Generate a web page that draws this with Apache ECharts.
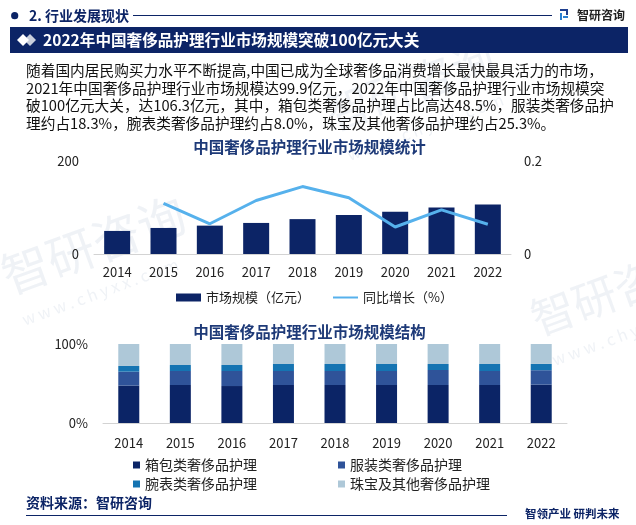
<!DOCTYPE html>
<html><head><meta charset="utf-8">
<script src="https://cdn.jsdelivr.net/npm/echarts@6/dist/echarts.min.js"></script>
<style>html,body{margin:0;padding:0;background:#fff}#c{width:636px;height:525px}</style>
</head><body><div id="c"></div>
<script>
const years = ['2014','2015','2016','2017','2018','2019','2020','2021','2022'];
const marketSize = [49.6, 56, 61, 66.8, 75, 84, 90.6, 99.9, 106.3];
const growth = [null, 0.109, 0.065, 0.115, 0.145, 0.121, 0.058, 0.095, 0.064];
const bagShare = [47.3, 48.1, 46.8, 48.1, 48.1, 48.1, 48.1, 48.1, 48.5];
const clothShare = [17.7, 17.7, 19.0, 17.7, 17.7, 17.7, 19.0, 17.7, 18.3];
const watchShare = [7.2, 7.6, 7.6, 8.9, 8.9, 8.9, 7.6, 8.9, 8.0];
const jewelShare = [27.8, 26.6, 26.6, 25.3, 25.3, 25.3, 25.3, 25.3, 25.2];
const paragraph = [
  '随着国内居民购买力水平不断提高,中国已成为全球奢侈品消费增长最快最具活力的市场，',
  '2021年中国奢侈品护理行业市场规模达99.9亿元，2022年中国奢侈品护理行业市场规模突',
  '破100亿元大关，达106.3亿元，其中，箱包类奢侈品护理占比高达48.5%，服装类奢侈品护',
  '理约占18.3%，腕表类奢侈品护理约占8.0%，珠宝及其他奢侈品护理约占25.3%。'
];

const FF = '"Noto Sans CJK SC", "Noto Sans", sans-serif';
const NAVY = '#0c2466';
const chart = echarts.init(document.getElementById('c'), null, {renderer: 'canvas'});

const wm = [];
function addWM(x, y, rot, size) {
  wm.push({type:'text', x:x, y:y, rotation:rot, z:-10, silent:true,
    style:{text:'智研咨询', font: size + 'px ' + FF, fill:'rgba(215,222,232,0.4)'}});
  wm.push({type:'text', x:x+25, y:y+size*1.2, rotation:rot, z:-10, silent:true,
    style:{text:'w w w . c h y x x . c o m', font: '16px ' + FF, fill:'rgba(215,222,232,0.4)'}});
}
addWM(-5, 255, 0.35, 48);
addWM(525, 300, 0.35, 44);
addWM(320, 95, 0.35, 44);

const graphics = wm.concat([
  {type:'circle', shape:{cx:14.7, cy:15.7, r:3.6}, style:{fill:NAVY}},
  {type:'text', x:29, y:15.7, style:{text:'2. 行业发展现状', font:'bold 14px ' + FF, fill:NAVY, verticalAlign:'middle'}},
  {type:'line', shape:{x1:133, y1:15.5, x2:552, y2:15.5}, style:{stroke:NAVY, lineWidth:1}},
  {type:'rect', shape:{x:560, y:9, width:8, height:2}, style:{fill:'#1f3f8f'}},
  {type:'rect', shape:{x:566, y:9, width:2, height:6}, style:{fill:'#1f3f8f'}},
  {type:'rect', shape:{x:560, y:13, width:2, height:7}, style:{fill:'#2a7fd0'}},
  {type:'rect', shape:{x:563, y:16, width:5, height:2}, style:{fill:'#2a7fd0'}},
  {type:'text', x:577, y:15, style:{text:'智研咨询', font:'bold 12px ' + FF, fill:'#222', verticalAlign:'middle'}},
  {type:'rect', shape:{x:10, y:27, width:618, height:26}, style:{fill:NAVY}},
  {type:'polygon', shape:{points:[[30,34],[36,40],[30,46],[24,40]]}, style:{fill:'#c9cfdc'}},
  {type:'polygon', shape:{points:[[23,34],[29,40],[23,46],[17,40]]}, style:{fill:'#ffffff'}},
  {type:'text', x:43, y:40.5, style:{text:'2022年中国奢侈品护理行业市场规模突破100亿元大关', font:'bold 15.6px ' + FF, fill:'#fff', verticalAlign:'middle'}},
  {type:'text', x:309.5, y:147, style:{text:'中国奢侈品护理行业市场规模统计', font:'bold 15.5px ' + FF, fill:'#1e3a78', align:'center', verticalAlign:'middle'}},
  {type:'text', x:309.5, y:332, style:{text:'中国奢侈品护理行业市场规模结构', font:'bold 15.5px ' + FF, fill:'#1e3a78', align:'center', verticalAlign:'middle'}},
  {type:'text', x:26, y:503, style:{text:'资料来源：智研咨询', font:'bold 14px ' + FF, fill:NAVY, verticalAlign:'middle'}},
  {type:'line', shape:{x1:26, y1:515.5, x2:507, y2:515.5}, style:{stroke:NAVY, lineWidth:1.2}},
  {type:'text', x:525, y:514, style:{text:'智领产业 研判未来', font:'bold 11.5px ' + FF, fill:NAVY, verticalAlign:'middle'}}
]);
paragraph.forEach((t, i) => {
  graphics.push({type:'text', x:26, y:70.5 + i * 17.6, style:{text:t, font:'14.7px ' + FF, fill:'#111', verticalAlign:'middle'}});
});

const axisLbl = {color:'#222', fontSize:13, fontFamily:FF};
chart.setOption({
  animation:false,
  graphic: graphics,
  grid:[
    {left:94, right:125, top:161, height:93},
    {left:103, right:69, top:344, height:79}
  ],
  legend:[
    {left:171, top:286, itemWidth:25, itemHeight:8, itemGap:22, textStyle:{color:'#222', fontSize:13, fontFamily:FF},
     data:[{name:'市场规模（亿元）', icon:'rect'}, {name:'同比增长（%）', itemStyle:{opacity:0}}]},
    {left:128, top:453, orient:'vertical', itemWidth:7, itemHeight:7, itemGap:5, textStyle:{color:'#222', fontSize:14, fontFamily:FF},
     data:[{name:'箱包类奢侈品护理', icon:'rect'}, {name:'腕表类奢侈品护理', icon:'rect'}]},
    {left:333, top:453, orient:'vertical', itemWidth:7, itemHeight:7, itemGap:5, textStyle:{color:'#222', fontSize:14, fontFamily:FF},
     data:[{name:'服装类奢侈品护理', icon:'rect'}, {name:'珠宝及其他奢侈品护理', icon:'rect'}]}
  ],
  xAxis:[
    {type:'category', gridIndex:0, data:years, axisTick:{show:false}, axisLine:{lineStyle:{color:'#d3d3d3'}},
     axisLabel:Object.assign({margin:12}, axisLbl)},
    {type:'category', gridIndex:1, data:years, axisTick:{show:false}, axisLine:{lineStyle:{color:'#d3d3d3'}},
     axisLabel:Object.assign({margin:14}, axisLbl)}
  ],
  yAxis:[
    {type:'value', gridIndex:0, min:0, max:200, interval:200, splitLine:{show:false}, axisLine:{show:false}, axisTick:{show:false},
     axisLabel:Object.assign({margin:15}, axisLbl)},
    {type:'value', gridIndex:0, min:0, max:0.2, interval:0.2, position:'right', splitLine:{show:false}, axisLine:{show:false}, axisTick:{show:false},
     axisLabel:Object.assign({margin:13}, axisLbl)},
    {type:'value', gridIndex:1, min:0, max:100, interval:100, splitLine:{show:false}, axisLine:{show:false}, axisTick:{show:false},
     axisLabel:Object.assign({margin:15, formatter:'{value}%'}, axisLbl)}
  ],
  series:[
    {name:'市场规模（亿元）', type:'bar', xAxisIndex:0, yAxisIndex:0, data:marketSize, barWidth:26, itemStyle:{color:NAVY}},
    {name:'同比增长（%）', type:'line', xAxisIndex:0, yAxisIndex:1, data:growth, symbol:'none', lineStyle:{color:'#56b1ec', width:3}, itemStyle:{color:'#56b1ec'}},
    {name:'箱包类奢侈品护理', type:'bar', stack:'s', xAxisIndex:1, yAxisIndex:2, data:bagShare, barWidth:21, itemStyle:{color:'#0b2466'}},
    {name:'服装类奢侈品护理', type:'bar', stack:'s', xAxisIndex:1, yAxisIndex:2, data:clothShare, barWidth:21, itemStyle:{color:'#2f5399'}},
    {name:'腕表类奢侈品护理', type:'bar', stack:'s', xAxisIndex:1, yAxisIndex:2, data:watchShare, barWidth:21, itemStyle:{color:'#1574b2'}},
    {name:'珠宝及其他奢侈品护理', type:'bar', stack:'s', xAxisIndex:1, yAxisIndex:2, data:jewelShare, barWidth:21, itemStyle:{color:'#aec8d8'}}
  ]
});
</script></body></html>
